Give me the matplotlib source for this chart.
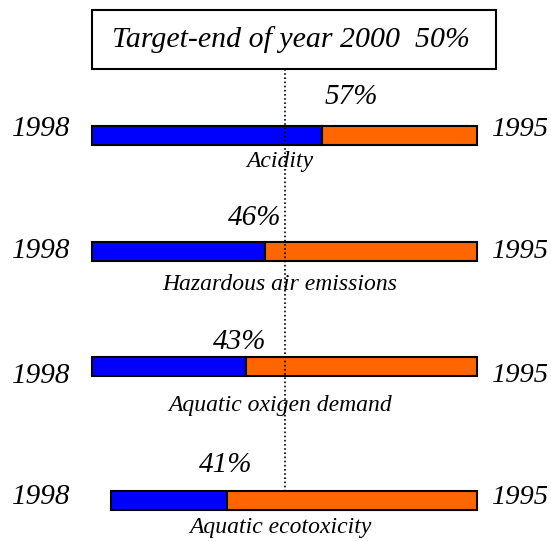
import matplotlib.pyplot as plt
from matplotlib.patches import Rectangle

# values as % of the 1995 level (1995 = 100)
categories = ['Acidity', 'Hazardous air emissions', 'Aquatic oxigen demand', 'Aquatic ecotoxicity']
pct_labels = ['57%', '46%', '43%', '41%']
start_1998 = [0, 0, 0, 4.9]
level_1998 = [59.7, 44.9, 40.0, 35.1]
level_1995 = [100, 100, 100, 100]
target = 50
title = 'Target-end of year 2000  50%'

# layout (pixel rows, y grows downward)
rows = [135.5, 251, 366, 500.5]
year_y = [129, 251, 376, 497]
pct_x = [67.3, 42.3, 38.4, 34.7]
pct_y = [97, 218, 342, 465]
cat_y = [162, 284, 406, 528]

plt.rcParams['font.family'] = ['Liberation Serif', 'DejaVu Serif']
plt.rcParams['font.style'] = 'italic'

fig = plt.figure(figsize=(5.51, 5.41), dpi=100)
ax = fig.add_axes([0, 0, 1, 1])
scale = 3.85
ax.set_xlim(-92 / scale, (551 - 92) / scale)
ax.set_ylim(541, 0)
ax.axis('off')

blue_w = [l - s for l, s in zip(level_1998, start_1998)]
orange_w = [e - l for e, l in zip(level_1995, level_1998)]
ax.barh(rows, blue_w, left=start_1998, height=19, color='#0000ff', edgecolor='black', linewidth=1.5, zorder=2)
ax.barh(rows, orange_w, left=level_1998, height=19, color='#ff6600', edgecolor='black', linewidth=1.5, zorder=2)

# target line
ax.plot([target, target], [69, 490], color='black', linestyle=(0, (1, 1.5)), linewidth=1.2, zorder=3)

# title box
ax.add_patch(Rectangle((0, 10), (496 - 92) / scale, 59, fill=False, edgecolor='black', linewidth=1.5))
ax.text((291 - 92) / scale, 40, title, ha='center', va='center', fontsize=21.5)

for i in range(len(categories)):
    ax.text(-80 / scale, year_y[i], '1998', ha='left', va='center', fontsize=21)
    ax.text(level_1995[i] + 15 / scale, year_y[i], '1995', ha='left', va='center', fontsize=20.5)
    ax.text(pct_x[i], pct_y[i], pct_labels[i], ha='center', va='center', fontsize=21)
    ax.text((280 - 92) / scale, cat_y[i], categories[i], ha='center', va='center', fontsize=17, zorder=1)

fig.savefig('out.png', dpi=100)
